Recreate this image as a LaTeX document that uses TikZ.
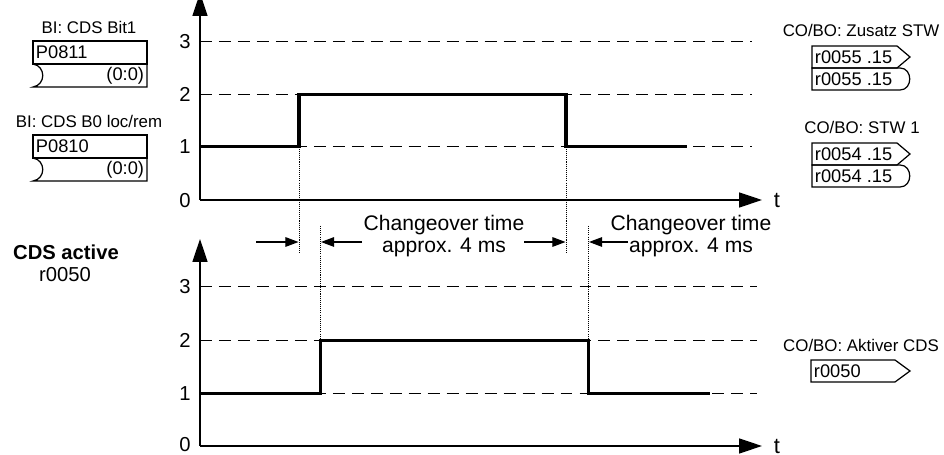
\documentclass[tikz,border=0pt]{standalone}
\usepackage{fontspec}
\setmainfont{Liberation Sans}
\usepackage{tikz}
\usetikzlibrary{arrows.meta, positioning, calc}

\begin{document}
\begin{tikzpicture}[x=0.02cm, y=-0.02cm,
    axis/.style={line width=0.7pt, -{Triangle[length=13pt, width=8.5pt]}},
    level/.style={line width=0.6pt, dash pattern=on 6.8pt off 4pt},
    signal/.style={line width=1.9pt},
    marker/.style={line width=0.5pt, dash pattern=on 0.6pt off 0.6pt},
    dimarrow/.style={line width=0.6pt, -{Triangle[length=7.5pt, width=5.5pt]}},
    box/.style={line width=0.7pt},
    lbl/.style={font=\fontsize{9.6}{11}\selectfont, inner sep=0pt},
    boxtxt/.style={font=\fontsize{10.4}{11}\selectfont, inner xsep=1.5pt, inner ysep=0pt},
    num/.style={font=\fontsize{11.5}{13}\selectfont, inner sep=0pt, anchor=east},
    big/.style={font=\fontsize{12}{12.5}\selectfont, align=center, inner sep=0pt},
    head/.style={font=\fontsize{11.5}{13}\selectfont, inner sep=0pt}]
    \useasboundingbox (0,0) rectangle (944,455);

    % Input parameters (left)
    \node[lbl] (bit1lbl) at (89,27) {BI: CDS Bit1};
    \draw[box] (33,41) rectangle (147,64);
    \node[boxtxt, anchor=west] (p0811) at (33,52.5) {P0811};
    \draw[box] (33,64) .. controls (46,66) and (46,85) .. (33,87) -- (147,87) -- (147,64);
    \node[boxtxt, anchor=east] (p0811src) at (147,76) {(0:0)};

    \begin{scope}[shift={(0,94)}]
        \node[lbl] (b0lbl) at (89,27) {BI: CDS B0 loc/rem};
        \draw[box] (33,41) rectangle (147,64);
        \node[boxtxt, anchor=west] (p0810) at (33,52.5) {P0810};
        \draw[box] (33,64) .. controls (46,66) and (46,85) .. (33,87) -- (147,87) -- (147,64);
        \node[boxtxt, anchor=east] (p0810src) at (147,76) {(0:0)};
    \end{scope}

    % Output parameters (right)
    \node[lbl] (zusatzlbl) at (861,30) {CO/BO: Zusatz STW};
    \draw[box] (812,46) -- (897,46) -- (910,57) -- (897,68) -- (812,68) -- cycle;
    \node[boxtxt, anchor=west] (r55a) at (812,57) {r0055 .15};
    \draw[box] (812,68) -- (900,68) .. controls (913,68) and (913,90) .. (900,90) -- (812,90) -- cycle;
    \node[boxtxt, anchor=west] (r55b) at (812,79) {r0055 .15};

    \begin{scope}[shift={(0,97)}]
        \node[lbl] (stwlbl) at (862,30) {CO/BO: STW 1};
        \draw[box] (812,46) -- (897,46) -- (910,57) -- (897,68) -- (812,68) -- cycle;
        \node[boxtxt, anchor=west] (r54a) at (812,57) {r0054 .15};
        \draw[box] (812,68) -- (900,68) .. controls (913,68) and (913,90) .. (900,90) -- (812,90) -- cycle;
        \node[boxtxt, anchor=west] (r54b) at (812,79) {r0054 .15};
    \end{scope}

    \node[lbl] (cdslbl) at (861,345) {CO/BO: Aktiver CDS};
    \draw[box] (811,360) -- (895,360) -- (910,371) -- (895,382) -- (811,382) -- cycle;
    \node[boxtxt, anchor=west] (r50) at (811,371) {r0050};

    % Upper plot
    \coordinate (o1) at (200,200);
    \coordinate (ytop1) at (200,-7);
    \coordinate (xend1) at (762,200);
    \foreach \y/\v in {41.7/3, 94.3/2, 146.7/1} {
        \draw[level] (200,\y) -- (752,\y);
        \node[num] (ua\v) at (191,\y) {\v};
    }
    \node[num] (ua0) at (191,200.5) {0};
    \draw[axis] (o1) -- (ytop1);
    \draw[axis] (o1) -- (xend1);
    \node[head, font=\fontsize{12.5}{13}\selectfont] (t1) at (777,200) {t};
    \draw[signal] (200,146.7) -- (299,146.7) -- (299,94.3) -- (566,94.3) -- (566,146.7) -- (687,146.7);

    % Changeover markers
    \draw[marker] (299,146.7) -- (299,253);
    \draw[marker] (566,146.7) -- (566,253);
    \draw[marker] (320.5,226) -- (320.5,393.3);
    \draw[marker] (588.5,226) -- (588.5,393.3);
    \coordinate (m1) at (298.5,242);
    \coordinate (m2) at (321,242);
    \coordinate (m3) at (565.5,242);
    \coordinate (m4) at (589,242);
    \draw[dimarrow] (256,242) -- (m1);
    \draw[dimarrow] (362,242) -- (m2);
    \draw[dimarrow] (524,242) -- (m3);
    \draw[dimarrow] (628,242) -- (m4);
    \node[big] (co1) at (444,236) {Changeover time\\approx. 4 ms};
    \node[big] (co2) at (691,236) {Changeover time\\approx. 4 ms};

    % Lower plot
    \node[head, font=\bfseries\fontsize{11.5}{13}\selectfont] (cdsact) at (66,252) {CDS active};
    \node[head] (cdspar) at (65,275) {r0050};
    \coordinate (o2) at (200,446);
    \coordinate (ytop2) at (200,239);
    \coordinate (xend2) at (762,446);
    \foreach \y/\v in {286.7/3, 340.7/2, 393.3/1} {
        \draw[level] (200,\y) -- (757,\y);
        \node[num] (la\v) at (191,\y) {\v};
    }
    \node[num] (la0) at (191,445) {0};
    \draw[axis] (o2) -- (ytop2);
    \draw[axis] (o2) -- (xend2);
    \node[head, font=\fontsize{12.5}{13}\selectfont] (t2) at (777,446) {t};
    \draw[signal] (200,393.3) -- (320.5,393.3) -- (320.5,340.7) -- (588.5,340.7) -- (588.5,393.3) -- (710,393.3);
\end{tikzpicture}
\end{document}
